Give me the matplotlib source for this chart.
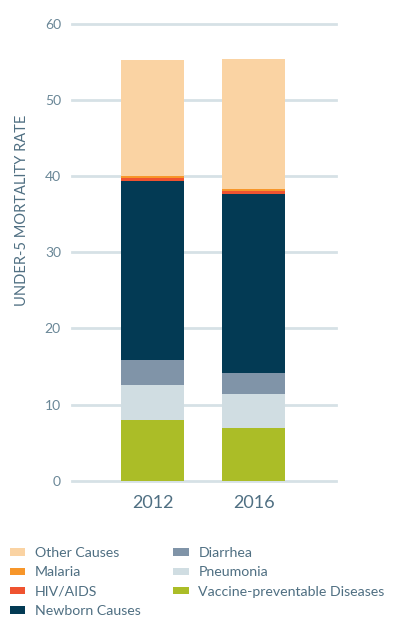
import matplotlib.pyplot as plt
import numpy as np

years = ['2012', '2016']
causes = ['Vaccine-preventable Diseases', 'Pneumonia', 'Diarrhea', 'Newborn Causes',
          'HIV/AIDS', 'Malaria', 'Other Causes']
vaccine = [8.0, 6.9]
pneumonia = [4.6, 4.5]
diarrhea = [3.3, 2.75]
newborn = [23.5, 23.55]
hiv = [0.3, 0.3]
malaria = [0.35, 0.35]
other = [15.2, 17.0]

colors = ['#abbd27', '#d0dde2', '#8094a8', '#033a54', '#ef5330', '#f7962a', '#fad3a3']
label_color = '#4f6f82'

plt.rcParams['font.family'] = 'Lato'

fig = plt.figure(figsize=(3.99, 6.22), dpi=100)
ax = fig.add_axes([0.1805, 0.2272, 0.6617, 0.7347])

x = np.arange(len(years))
bottom = np.zeros(len(years))
for vals, name, c in zip([vaccine, pneumonia, diarrhea, newborn, hiv, malaria, other],
                         causes, colors):
    ax.bar(x, vals, width=0.624, bottom=bottom, color=c, label=name, zorder=3)
    bottom += np.array(vals)

ax.set_xlim(-0.797, 1.817)
ax.set_ylim(0, 60)
ax.set_yticks(range(0, 61, 10))
ax.yaxis.grid(True, color='#d6e1e6', linewidth=2, zorder=0)
for line in ax.get_ygridlines():
    line.set_clip_on(False)
for s in ax.spines.values():
    s.set_visible(False)
ax.tick_params(axis='y', length=0, pad=8, labelsize=10, labelcolor='#6a8797')
ax.tick_params(axis='x', length=0, pad=10, labelsize=13, labelcolor=label_color)
ax.set_xticks(x)
ax.set_xticklabels(years)

fig.text(0.054, 1 - 210 / 622, 'UNDER-5 MORTALITY RATE', rotation=90,
         ha='center', va='center', fontsize=10.5, color=label_color)

handles, labels = ax.get_legend_handles_labels()
order = [6, 5, 4, 3, 2, 1, 0]
fig.legend([handles[i] for i in order], [labels[i] for i in order],
           ncol=2, loc='upper left', bbox_to_anchor=(0.025, 1 - 547 / 622),
           frameon=False, fontsize=10.2, labelcolor=label_color,
           handlelength=1.07, handleheight=0.45, handletextpad=0.7,
           labelspacing=0.52, columnspacing=2.3, borderpad=0, borderaxespad=0)

fig.savefig('out.png', dpi=100)
